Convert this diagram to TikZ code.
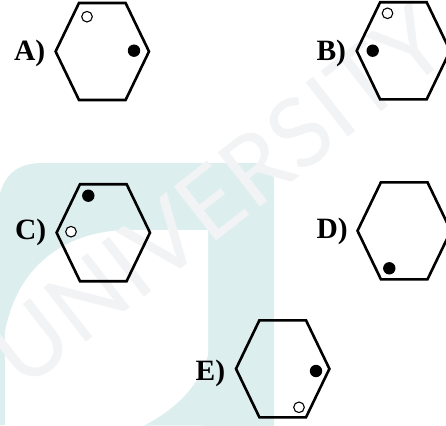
\documentclass[tikz,border=0pt]{standalone}
\usepackage{fontspec}
\setmainfont{Liberation Serif}
\newfontfamily\wmfont{Lato}
\definecolor{wmteal}{RGB}{221,238,239}
\definecolor{wmgray}{RGB}{242,243,245}
\tikzset{
  hexline/.style={line width=2.6pt, line join=miter, black},
  dotfull/.style={fill=black, draw=none},
  dotopen/.style={draw=black, line width=1.1pt, fill=white},
  lbl/.style={anchor=base west, inner sep=0pt, font=\fontsize{29.5}{30}\selectfont\bfseries},
}
\newcommand{\hexat}[2]{%
  \draw[hexline] (#1-23.3,#2-48.5) -- (#1+23.3,#2-48.5) -- (#1+46.7,#2) -- (#1+23.3,#2+48.5) -- (#1-23.3,#2+48.5) -- (#1-46.7,#2) -- cycle;}
\begin{document}
\begin{tikzpicture}[x=1pt,y=-1pt]
\useasboundingbox (0,0) rectangle (446,425);
% watermark
\fill[wmteal] (-1,425) -- (-1,197) .. controls (4,176) and (16,163) .. (42,163) -- (256,163) .. controls (266,163) and (274,170) .. (274,181) -- (274,426) -- cycle;
\fill[white] (5,426) -- (5,332) .. controls (18,262) and (70,230) .. (130,230) -- (208,230) -- (208,355) .. controls (200,385) and (175,410) .. (143,426) -- cycle;
\node[wmgray, font=\wmfont\fontsize{96}{96}\selectfont, rotate=38, inner sep=0pt] (wm) at (218,196) {UNIVERSITY};
% hexagons
\hexat{102.3}{51.5}
\hexat{403.4}{50.8}
\hexat{103.3}{232.7}
\hexat{404.2}{230.8}
\hexat{282.7}{368.8}
% labels
\node[lbl] (la) at (14,60.7) {A)};
\node[lbl] (lb) at (316.3,60.7) {B)};
\node[lbl] (lc) at (15,239.5) {C)};
\node[lbl] (ld) at (316.3,238.5) {D)};
\node[lbl] (le) at (195.5,380) {E)};
% dots
\fill[dotfull] (134,50.7) circle (6.2);
\draw[dotopen] (87,16.7) circle (5.3);
\fill[dotfull] (372.7,50.7) circle (6.2);
\draw[dotopen] (387.5,13.3) circle (5.3);
\fill[dotfull] (88.3,195.7) circle (6.2);
\draw[dotopen] (71,231.7) circle (5.3);
\fill[dotfull] (389.3,268.3) circle (6.2);
\fill[dotfull] (316,371) circle (6.2);
\draw[dotopen] (299,407.3) circle (5.3);
\end{tikzpicture}
\end{document}
